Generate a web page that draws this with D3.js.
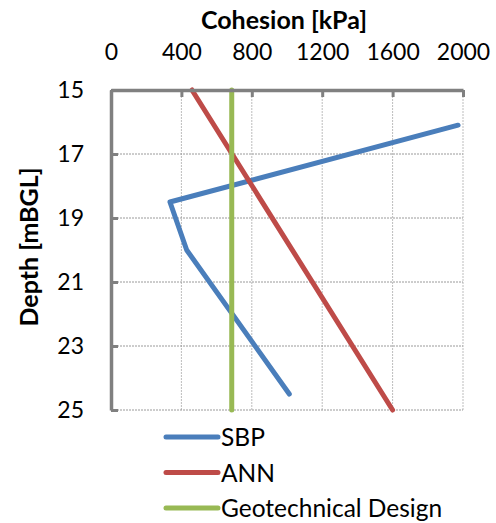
<!DOCTYPE html>
<html>
<head>
<meta charset="utf-8">
<script src="https://cdn.jsdelivr.net/npm/d3@7"></script>
<style>
  body { margin: 0; background: #fff; }
  svg text { font-family: Lato, "Open Sans", sans-serif; fill: #000; }
</style>
</head>
<body>
<svg id="chart" width="496" height="523"></svg>
<script>
// data
var xTicks = [0, 400, 800, 1200, 1600, 2000];
var yTicks = [15, 17, 19, 21, 23, 25];

var sbpCohesion = [1972, 335, 430, 1013];
var sbpDepth = [16.1, 18.5, 20.0, 24.5];

var annCohesion = [460, 1600];
var annDepth = [15, 25];

var designCohesion = [686, 686];
var designDepth = [15, 25];

var seriesNames = ["SBP", "ANN", "Geotechnical Design"];
var seriesColors = ["#4a7ebb", "#be4b48", "#98b954"];

var svg = d3.select("#chart");
var pLeft = 111, pRight = 463, pTop = 90, pBottom = 410;

var x = d3.scaleLinear().domain([0, 2000]).range([pLeft, pRight]);
var y = d3.scaleLinear().domain([15, 25]).range([pTop, pBottom]);

// gridlines
var grid = svg.append("g");
grid.selectAll(".vg").data(xTicks.slice(1)).enter().append("line")
  .attr("x1", d => x(d)).attr("x2", d => x(d))
  .attr("y1", pTop).attr("y2", pBottom)
  .attr("stroke", "#bdbdbd").attr("stroke-width", 1).attr("stroke-dasharray", "2,1");
grid.selectAll(".hg").data(yTicks.slice(1)).enter().append("line")
  .attr("x1", pLeft).attr("x2", pRight)
  .attr("y1", d => y(d)).attr("y2", d => y(d))
  .attr("stroke", "#9a9a9a").attr("stroke-width", 1).attr("stroke-dasharray", "2,1");

// series
var pts = [
  d3.zip(sbpCohesion, sbpDepth),
  d3.zip(annCohesion, annDepth),
  d3.zip(designCohesion, designDepth)
];
var line = d3.line().x(d => x(d[0])).y(d => y(d[1]));
svg.append("g").selectAll("path").data(pts).enter().append("path")
  .attr("d", line)
  .attr("fill", "none")
  .attr("stroke", (d, i) => seriesColors[i])
  .attr("stroke-width", 5)
  .attr("stroke-linecap", "round")
  .attr("stroke-linejoin", "round");

// axes (top + left, ticks pointing inward)
var xAxis = svg.append("g").attr("transform", "translate(0," + pTop + ")")
  .call(d3.axisTop(x).tickValues(xTicks).tickFormat(d3.format("d"))
    .tickSizeInner(-7).tickSizeOuter(0).tickPadding(30));
var yAxis = svg.append("g").attr("transform", "translate(" + pLeft + ",0)")
  .call(d3.axisLeft(y).tickValues(yTicks).tickFormat(d3.format("d"))
    .tickSizeInner(-7).tickSizeOuter(0).tickPadding(27));
[xAxis, yAxis].forEach(function (a) {
  a.select(".domain").attr("stroke", "#808080").attr("stroke-width", 3.5);
  a.selectAll(".tick line").attr("stroke", "#808080").attr("stroke-width", 3);
  a.selectAll(".tick text").style("font-size", "23px").attr("fill", "#000");
});

// titles
svg.append("text").attr("x", 284).attr("y", 29).attr("text-anchor", "middle")
  .style("font-size", "25px").style("font-weight", "bold").text("Cohesion [kPa]");
svg.append("text").attr("transform", "translate(38,247) rotate(-90)").attr("text-anchor", "middle")
  .style("font-size", "25px").style("font-weight", "bold").text("Depth [mBGL]");

// legend
var legend = svg.append("g").selectAll("g").data(seriesNames).enter().append("g")
  .attr("transform", (d, i) => "translate(0," + (437 + i * 35.5) + ")");
legend.append("line").attr("x1", 166).attr("x2", 218)
  .attr("stroke", (d, i) => seriesColors[i]).attr("stroke-width", 5).attr("stroke-linecap", "round");
legend.append("text").attr("x", 221).attr("y", 9).style("font-size", "24.5px").text(d => d);
</script>
</body>
</html>
